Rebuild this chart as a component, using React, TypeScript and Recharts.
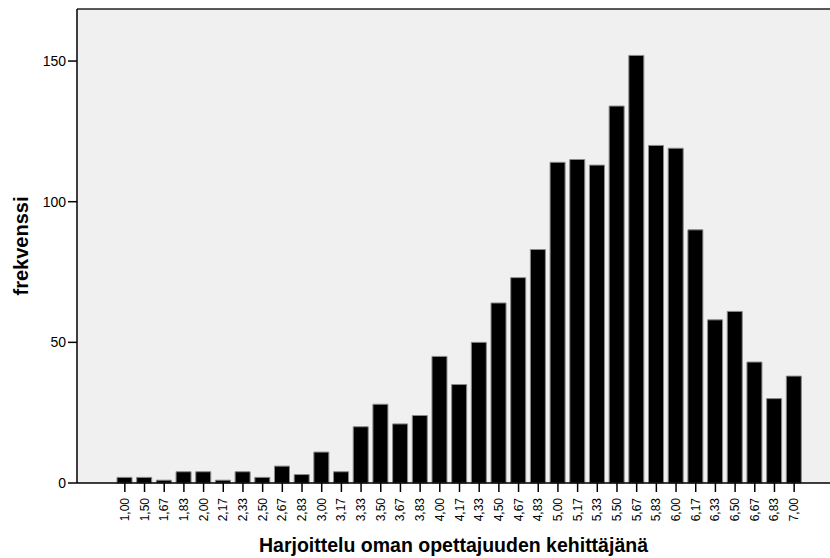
import React from 'react';
import { BarChart, Bar, XAxis, YAxis, CartesianGrid, ReferenceLine } from 'recharts';

const categories = ['1,00','1,50','1,67','1,83','2,00','2,17','2,33','2,50','2,67','2,83','3,00','3,17','3,33','3,50','3,67','3,83','4,00','4,17','4,33','4,50','4,67','4,83','5,00','5,17','5,33','5,50','5,67','5,83','6,00','6,17','6,33','6,50','6,67','6,83','7,00'];
const frequencies = [2,2,1,4,4,1,4,2,6,3,11,4,20,28,21,24,45,35,50,64,73,83,114,115,113,134,152,120,119,90,58,61,43,30,38];
const yTicks = [0, 50, 100, 150];
const yMax = 168.5;
const xTitle = 'Harjoittelu oman opettajuuden kehittäjänä';
const yTitle = 'frekvenssi';

const data = categories.map((c, i) => ({ cat: c, freq: frequencies[i] }));

const FONT = '"Liberation Sans", Arial, sans-serif';

const XTick = (props: any) => {
  const { x, y, payload } = props;
  return (
    <text
      x={x}
      y={y}
      transform={`rotate(-90, ${x}, ${y})`}
      textAnchor="end"
      dominantBaseline="central"
      fontSize={12}
      fontFamily={FONT}
      fill="#000"
      dx={-4}
    >
      {payload.value}
    </text>
  );
};

export default function App() {
  return (
    <div style={{ position: 'fixed', left: 0, top: 0, width: 830, height: 558, background: '#fff' }}>
      <BarChart
        width={830}
        height={558}
        data={data}
        margin={{ top: 9, right: 0, bottom: 0, left: 0 }}
        barSize={15}
      >
        <CartesianGrid fill="#f0f0f0" horizontal={false} vertical={false} />
        <XAxis
          dataKey="cat"
          interval={0}
          height={75}
          padding={{ left: 38, right: 26 }}
          tick={<XTick />}
          tickSize={9}
          axisLine={{ stroke: '#000', strokeWidth: 1.5 }}
          tickLine={{ stroke: '#000', strokeWidth: 1.5 }}
          label={{
            value: xTitle,
            position: 'insideBottom',
            offset: 6,
            style: { fontFamily: FONT, fontSize: 19.5, fontWeight: 'bold', fill: '#000' },
          }}
        />
        <YAxis
          domain={[0, yMax]}
          ticks={yTicks}
          width={77}
          tickSize={9}
          tick={{ fontFamily: FONT, fontSize: 14, fill: '#000' }}
          axisLine={{ stroke: '#000', strokeWidth: 1.5 }}
          tickLine={{ stroke: '#000', strokeWidth: 1.5 }}
          label={{
            value: yTitle,
            angle: -90,
            position: 'insideLeft',
            offset: 21,
            style: { textAnchor: 'middle', fontFamily: FONT, fontSize: 20, fontWeight: 'bold', fill: '#000' },
          }}
        />
        <ReferenceLine y={yMax} stroke="#222" strokeWidth={1.5} />
        <Bar dataKey="freq" fill="#000" stroke="#8a8a8a" strokeWidth={1} isAnimationActive={false} />
      </BarChart>
    </div>
  );
}
